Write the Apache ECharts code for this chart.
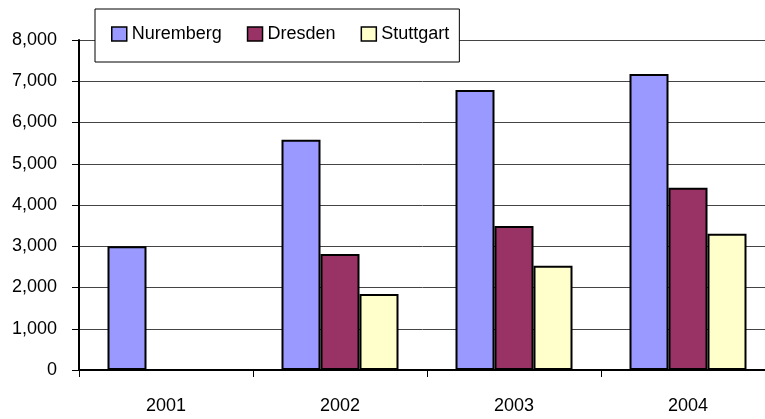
<!DOCTYPE html>
<html>
<head>
<meta charset="utf-8">
<script src="https://cdn.jsdelivr.net/npm/echarts@6/dist/echarts.min.js"></script>
<style>
  html, body { margin: 0; padding: 0; background: #fff; }
  #main { width: 765px; height: 419px; }
</style>
</head>
<body>
<div id="main"></div>
<script>
const years = ['2001', '2002', '2003', '2004'];
const nuremberg = [3000, 5580, 6790, 7175];
const dresden = [null, 2810, 3490, 4420];
const stuttgart = [null, 1840, 2530, 3305];

const font = '"Liberation Sans", Arial, sans-serif';
const myChart = echarts.init(document.getElementById('main'));

const barSeries = (name, data, color) => ({
    name,
    type: 'bar',
    data,
    barWidth: 39,
    barGap: '0%',
    itemStyle: { color, borderColor: '#000', borderWidth: 2 }
});

myChart.setOption({
    animation: false,
    backgroundColor: '#fff',
    textStyle: { fontFamily: font },
    legend: {
        left: 95,
        top: 9,
        padding: [16, 10, 19, 16],
        itemGap: 25,
        itemWidth: 15,
        itemHeight: 14,
        icon: 'rect',
        backgroundColor: '#fff',
        borderColor: '#000',
        borderWidth: 1,
        itemStyle: { borderColor: '#000', borderWidth: 1.5 },
        textStyle: { fontFamily: font, fontSize: 18, color: '#000' },
        data: ['Nuremberg', 'Dresden', 'Stuttgart']
    },
    grid: { left: 79, top: 40, width: 696, height: 330, outerBoundsMode: 'none' },
    xAxis: {
        type: 'category',
        data: years,
        axisLine: { lineStyle: { color: '#000', width: 2 } },
        axisTick: { show: true, length: 7, lineStyle: { color: '#000', width: 1 } },
        axisLabel: { margin: 27, fontSize: 18, fontFamily: font, color: '#000' }
    },
    yAxis: {
        type: 'value',
        min: 0,
        max: 8000,
        interval: 1000,
        axisLine: { show: true, lineStyle: { color: '#000', width: 2 } },
        axisTick: { show: true, length: 7, lineStyle: { color: '#000', width: 1 } },
        splitLine: { lineStyle: { color: '#444', width: 1 } },
        axisLabel: {
            margin: 22,
            fontSize: 18,
            fontFamily: font,
            color: '#000',
            formatter: v => v.toLocaleString('en-US')
        }
    },
    series: [
        barSeries('Nuremberg', nuremberg, '#9999FF'),
        barSeries('Dresden', dresden, '#993366'),
        barSeries('Stuttgart', stuttgart, '#FFFFCC')
    ]
});
</script>
</body>
</html>
